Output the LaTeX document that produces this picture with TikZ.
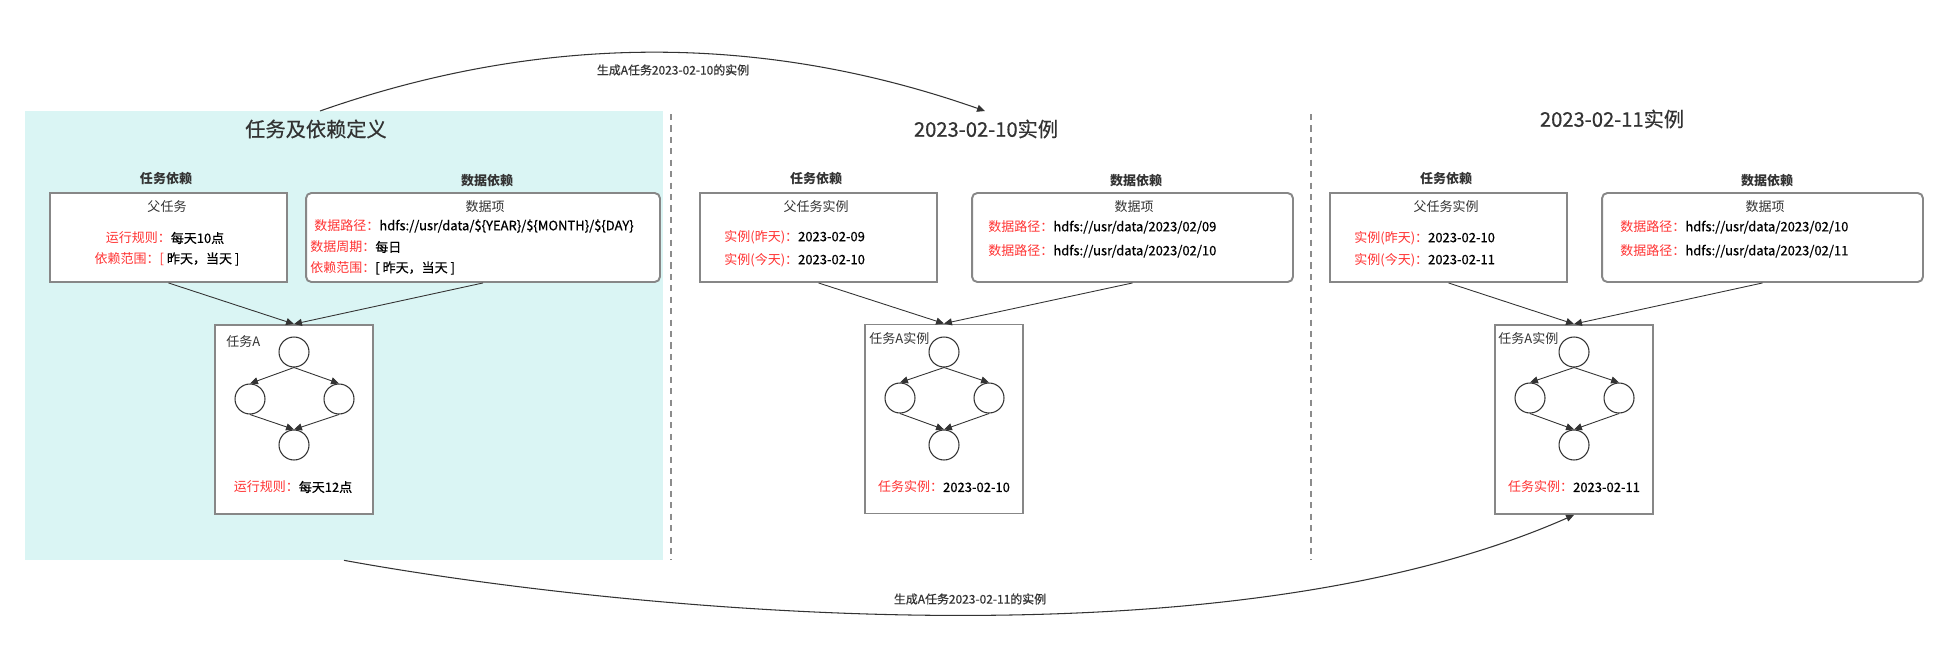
\documentclass[tikz,border=0pt]{standalone}
\usepackage{fontspec}
\setmainfont{Noto Sans CJK SC}
\newfontfamily\medfont{Noto Sans CJK SC}[FakeBold=0.5]
\usetikzlibrary{arrows.meta,positioning}
\definecolor{bgcyan}{HTML}{DAF5F4}
\definecolor{boxgray}{HTML}{878787}
\definecolor{labred}{HTML}{FF3333}
\definecolor{linegray}{HTML}{333333}
\definecolor{sepgray}{HTML}{8C8C8C}
\definecolor{textgray}{HTML}{333333}
\newcommand{\redlab}[1]{{\color{labred}\normalfont#1}}

\begin{document}
\begin{tikzpicture}[x=0.02cm, y=-0.02cm,
  title/.style={font=\fontsize{11.5}{13}\selectfont\medfont, text=textgray, inner sep=0pt},
  head/.style={font=\fontsize{7.4}{9}\selectfont\bfseries, text=textgray, inner sep=0pt},
  txt/.style={font=\fontsize{7.4}{9}\selectfont, inner sep=0pt},
  val/.style={font=\fontsize{7.4}{9}\selectfont\medfont, inner sep=0pt},
  small/.style={font=\fontsize{6.8}{8}\selectfont\medfont, text=textgray, inner sep=0pt},
  box/.style={draw=boxgray, line width=1.1pt, fill=white, minimum height=1.78cm, inner sep=0pt},
  taskbox/.style={box, minimum width=3.16cm, minimum height=3.78cm},
  dag/.style={circle, draw=linegray, line width=0.6pt, fill=white, minimum size=0.6cm, inner sep=0pt},
  arr/.style={-{Triangle[length=4.5pt,width=4pt]}, draw=linegray, line width=0.5pt},
  sep/.style={draw=sepgray, line width=0.8pt, dash pattern=on 3.5pt off 3pt}]
\useasboundingbox (0,0) rectangle (1942,669);

% Definition area
\node[fill=bgcyan, minimum width=12.76cm, minimum height=8.98cm, inner sep=0pt] (defbg) at (344,335.5) {};

% Separators
\draw[sep] (671,114) -- (671,560);
\draw[sep] (1311,114) -- (1311,560);

% Generation arcs
\coordinate (gen1) at (320,111);
\coordinate (inst1top) at (985,111);
\draw[arr, line width=0.6pt] (gen1) .. controls (542,33) and (763,33) .. (inst1top);
\node[small] (gen1label) at (673,70) {生成A任务2023-02-10的实例};

% Definition panel
\node[title] (deftitle) at (316,129) {任务及依赖定义};
\node[head] (taskdep1) at (166,179) {任务依赖};
\node[box, minimum width=4.74cm] (parent1) at (168.5,237.5) {};
\node[txt, text=textgray] (parent1name) at (167,207) {父任务};
\node[val] (rule1) at (165,238) {\redlab{运行规则：}每天10点};
\node[val] (range1) at (167,259) {\redlab{依赖范围：[} 昨天，当天 ]};
\node[head] (datadep1) at (487,181) {数据依赖};
\node[box, rounded corners=3pt, minimum width=7.08cm] (data1) at (483,237.5) {};
\node[txt, text=textgray] (data1name) at (485,207) {数据项};
\node[val, anchor=west] (path1) at (314,226) {\redlab{数据路径：}hdfs://usr/data/\$\{YEAR\}/\$\{MONTH\}/\$\{DAY\}};
\node[val, anchor=west] (cycle1) at (310,247) {\redlab{数据周期：}每日};
\node[val, anchor=west] (range1b) at (310,268) {\redlab{依赖范围：}[ 昨天，当天 ]};
\node[taskbox] (task1) at (294,419.5) {};
\node[txt, anchor=west, text=textgray] (task1name) at (226,342) {任务A};
\node[dag] (a1) at (294,352) {};
\node[dag] (a2) at (250,399) {};
\node[dag] (a3) at (339,399) {};
\node[dag] (a4) at (294,445) {};
\node[val] (rule1b) at (293,487) {\redlab{运行规则：}每天12点};
\draw[arr] (parent1.south) -- (task1.north);
\draw[arr] (data1.south) -- (task1.north);
\draw[arr] (a1.south) -- (a2.north);
\draw[arr] (a1.south) -- (a3.north);
\draw[arr] (a2.south) -- (a4.north);
\draw[arr] (a3.south) -- (a4.north);

% Instance 2023-02-10
\node[title] (inst1title) at (986,129) {2023-02-10实例};
\node[head] (taskdep2) at (816,179) {任务依赖};
\node[box, minimum width=4.74cm] (parent2) at (818.5,237.5) {};
\node[txt, text=textgray] (parent2name) at (816,207) {父任务实例};
\node[val, anchor=west] (yday2) at (724,237) {\redlab{实例(昨天)：}2023-02-09};
\node[val, anchor=west] (today2) at (724,260) {\redlab{实例(今天)：}2023-02-10};
\node[head] (datadep2) at (1136,181) {数据依赖};
\node[box, rounded corners=3pt, minimum width=6.42cm] (data2) at (1132.5,237.5) {};
\node[txt, text=textgray] (data2name) at (1134,207) {数据项};
\node[val, anchor=west] (path2a) at (988,227) {\redlab{数据路径：}hdfs://usr/data/2023/02/09};
\node[val, anchor=west] (path2b) at (988,251) {\redlab{数据路径：}hdfs://usr/data/2023/02/10};
\node[taskbox] (task2) at (944,419) {};
\node[txt, anchor=west, text=textgray] (task2name) at (869,339) {任务A实例};
\node[dag] (b1) at (944,352) {};
\node[dag] (b2) at (900,398) {};
\node[dag] (b3) at (989,398) {};
\node[dag] (b4) at (944,445) {};
\node[val] (inst2) at (944,487) {\redlab{任务实例：}2023-02-10};
\draw[arr] (parent2.south) -- (task2.north);
\draw[arr] (data2.south) -- (task2.north);
\draw[arr] (b1.south) -- (b2.north);
\draw[arr] (b1.south) -- (b3.north);
\draw[arr] (b2.south) -- (b4.north);
\draw[arr] (b3.south) -- (b4.north);

% Instance 2023-02-11
\node[title] (inst2title) at (1612,119) {2023-02-11实例};
\node[head] (taskdep3) at (1446,179) {任务依赖};
\node[box, minimum width=4.74cm] (parent3) at (1448.5,237.5) {};
\node[txt, text=textgray] (parent3name) at (1446,207) {父任务实例};
\node[val, anchor=west] (yday3) at (1354,238) {\redlab{实例(昨天)：}2023-02-10};
\node[val, anchor=west] (today3) at (1354,260) {\redlab{实例(今天)：}2023-02-11};
\node[head] (datadep3) at (1767,181) {数据依赖};
\node[box, rounded corners=3pt, minimum width=6.42cm] (data3) at (1762.5,237.5) {};
\node[txt, text=textgray] (data3name) at (1765,207) {数据项};
\node[val, anchor=west] (path3a) at (1620,227) {\redlab{数据路径：}hdfs://usr/data/2023/02/10};
\node[val, anchor=west] (path3b) at (1620,251) {\redlab{数据路径：}hdfs://usr/data/2023/02/11};
\node[taskbox] (task3) at (1574,419.5) {};
\node[txt, anchor=west, text=textgray] (task3name) at (1498,339) {任务A实例};
\node[dag] (c1) at (1574,352) {};
\node[dag] (c2) at (1530,398) {};
\node[dag] (c3) at (1619,398) {};
\node[dag] (c4) at (1574,445) {};
\node[val] (inst3) at (1574,487) {\redlab{任务实例：}2023-02-11};
\draw[arr] (parent3.south) -- (task3.north);
\draw[arr] (data3.south) -- (task3.north);
\draw[arr] (c1.south) -- (c2.north);
\draw[arr] (c1.south) -- (c3.north);
\draw[arr] (c2.south) -- (c4.north);
\draw[arr] (c3.south) -- (c4.north);

% Second generation arc
\draw[arr, line width=0.6pt] (defbg.south) .. controls (560,600) and (1200,680) .. (task3.south);
\node[small] (gen2label) at (970,599) {生成A任务2023-02-11的实例};
\end{tikzpicture}
\end{document}
